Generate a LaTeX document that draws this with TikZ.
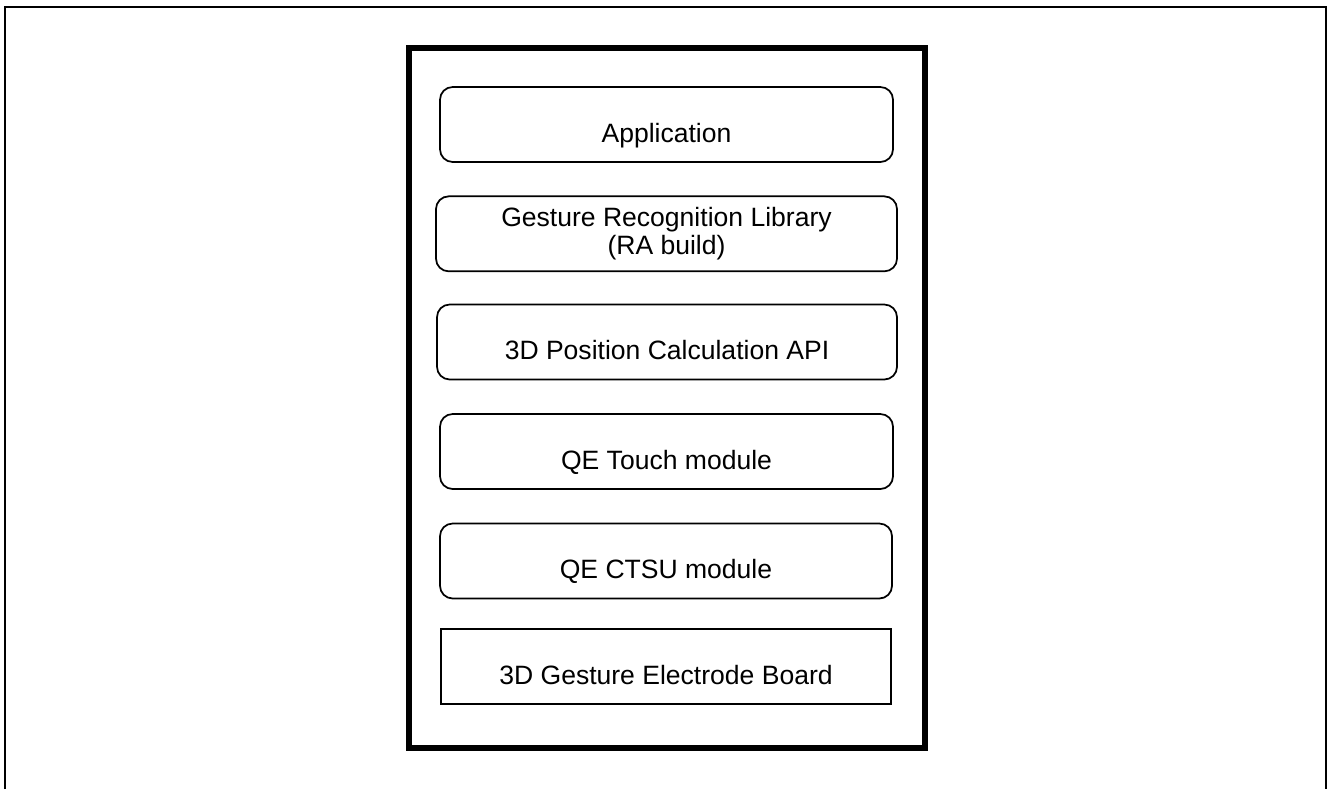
\documentclass[tikz,border=0pt]{standalone}
\usepackage{fontspec}
\setmainfont{Liberation Sans}
\newcommand{\layerfont}{\fontsize{19.9}{21.2}\selectfont}
\tikzset{
	layerbase/.style={draw, line width=1.3pt, minimum height=56.25pt, inner sep=2pt, font=\layerfont},
	layer/.style={layerbase, rounded corners=9.5pt, text height=28.8pt, text depth=2.4pt},
	layertwo/.style={layerbase, rounded corners=9.5pt, align=center, yshift=-1pt},
	boardbox/.style={layerbase, text height=28.8pt, text depth=2.4pt}
}

\begin{document}
\begin{tikzpicture}[x=0.75pt, y=-0.75pt]
			%%%%% START %%%%%
			\useasboundingbox (0, 0) rectangle (1328, 789);
			
			\draw[line width=1.6pt] (5, 789) -- (5, 7) -- (1326, 7) -- (1326, 789);
			
			\draw[line width=4pt] (409, 48) rectangle (925, 748);
			
			\node[layer, minimum width=339.75pt] (app) at (666.5, 124.5) {Application};
			\node[layertwo, minimum width=345.75pt] (glib) at (666.5, 232.5) {Gesture Recognition Library\\(RA build)};
			\node[layer, minimum width=345pt] (poscalc) at (667, 342) {3D Position Calculation API};
			\node[layer, minimum width=339.75pt] (touch) at (666.5, 451.5) {QE Touch module};
			\node[layer, minimum width=339pt] (ctsu) at (666, 561) {QE CTSU module};
			\node[boardbox, minimum width=337.5pt] (board) at (666, 666.5) {3D Gesture Electrode Board};
			
			%%%%% END %%%%%
\end{tikzpicture}
\end{document}
